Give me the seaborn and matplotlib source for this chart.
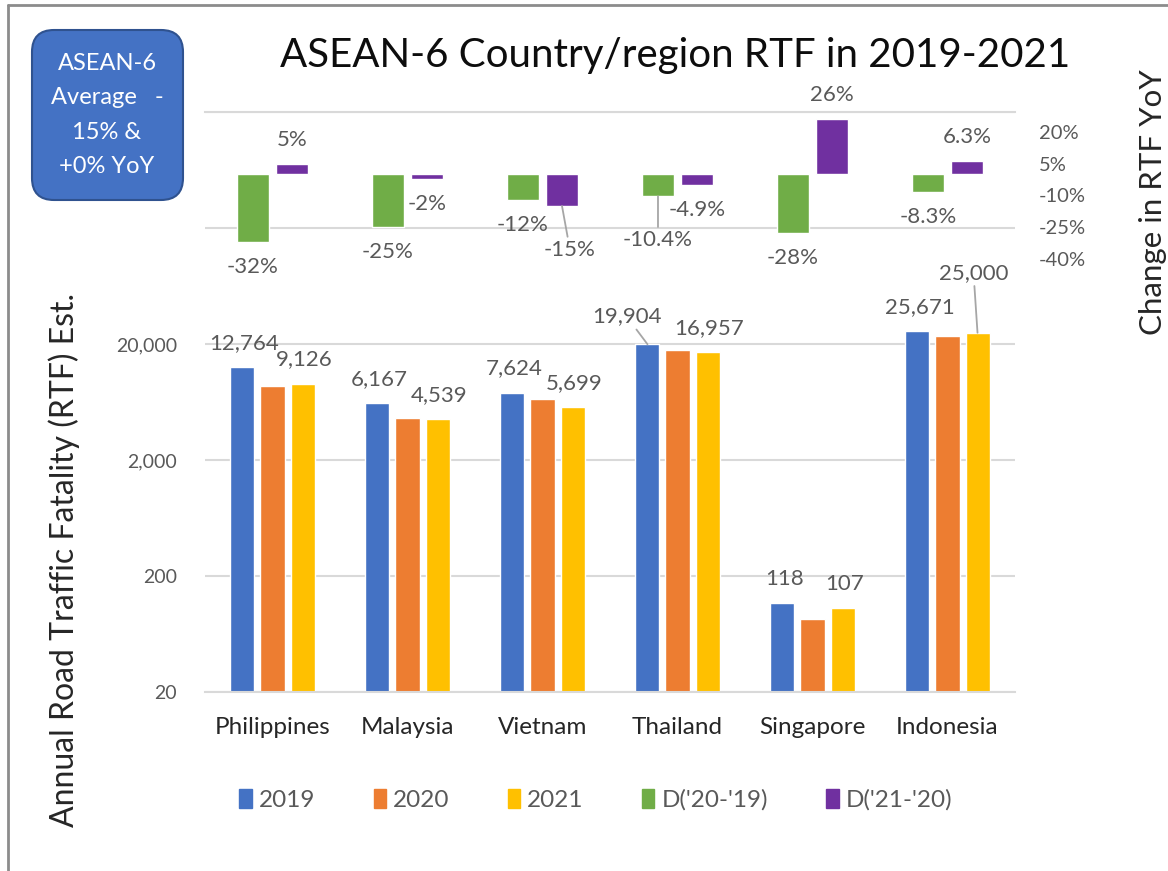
import numpy as np
import pandas as pd
import matplotlib
matplotlib.use('Agg')
import matplotlib.pyplot as plt
import seaborn as sns
from matplotlib.patches import FancyBboxPatch, Patch
from matplotlib.lines import Line2D
from matplotlib.transforms import IdentityTransform
from matplotlib.ticker import FixedLocator, FuncFormatter, NullLocator

# Data
countries = ['Philippines', 'Malaysia', 'Vietnam', 'Thailand', 'Singapore', 'Indonesia']
years = ['2019', '2020', '2021']
rtf_2019 = [12764, 6167, 7624, 19904, 118, 25671]
rtf_2020 = [8690, 4630, 6700, 17830, 85, 23530]
rtf_2021 = [9126, 4539, 5699, 16957, 107, 25000]
d_names = ["D('20-'19)", "D('21-'20)"]
d_20_19 = [-0.32, -0.25, -0.12, -0.104, -0.28, -0.083]
d_21_20 = [0.05, -0.02, -0.15, -0.049, 0.26, 0.063]
box_text = "ASEAN-6\nAverage   -\n15% &\n+0% YoY"

year_colors = ['#4472C4', '#ED7D31', '#FFC000']
d_colors = ['#70AD47', '#7030A0']

sns.set_style('white')
plt.rcParams['font.family'] = ['Lato', 'DejaVu Sans']

rtf = pd.DataFrame({'country': countries * 3,
                    'year': np.repeat(years, len(countries)),
                    'value': rtf_2019 + rtf_2020 + rtf_2021})
yoy = pd.DataFrame({'country': countries * 2,
                    'series': np.repeat(d_names, len(countries)),
                    'pct': d_20_19 + d_21_20})

W, H = 1168, 871
fig = plt.figure(figsize=(W / 100, H / 100), dpi=100)
ax = fig.add_axes([205 / W, 1 - 692 / H, 810 / W, 580 / H])
ax.set_yscale('log')

sns.barplot(data=rtf, x='country', y='value', hue='year', order=countries,
            palette=year_colors, saturation=1, width=0.667, gap=0.2, ax=ax, legend=False)
ax.set_ylim(20, 2e6)
ax.yaxis.set_major_locator(FixedLocator([20, 200, 2000, 20000, 200000, 2000000]))
ax.yaxis.set_minor_locator(NullLocator())
ax.yaxis.set_major_formatter(FuncFormatter(lambda v, _: f'{v:,.0f}' if v <= 20000 else ''))
ax.grid(axis='y', color='#D9D9D9', lw=1.5)
ax.set_axisbelow(True)
for s in ['left', 'right']:
    ax.spines[s].set_visible(False)
for s in ['top', 'bottom']:
    ax.spines[s].set_color('#D9D9D9')
    ax.spines[s].set_linewidth(1.5)
ax.tick_params(axis='y', length=0, pad=20, labelsize=14, labelcolor='#595959')
ax.tick_params(axis='x', length=0, pad=18, labelsize=17.5, labelcolor='#262626')
ax.set_xlabel('')
ax.set_ylabel('Annual Road Traffic Fatality (RTF) Est.', fontsize=23, color='#262626')
ax.yaxis.set_label_coords(-0.154, 0.228)

# secondary axis with the YoY changes
ax2 = ax.twinx()
sns.barplot(data=yoy, x='country', y='pct', hue='series', order=countries,
            palette=d_colors, saturation=1, width=0.578, gap=0.2, ax=ax2, legend=False)
ax2.set_ylim(-2.45, 0.295)
ax2.yaxis.set_major_locator(FixedLocator([-0.40, -0.25, -0.10, 0.05, 0.20]))
ax2.yaxis.set_major_formatter(FuncFormatter(lambda v, _: f'{v:.0%}'))
ax2.grid(False)
for s in ax2.spines.values():
    s.set_visible(False)
ax2.tick_params(axis='y', length=0, pad=17, labelsize=14.5, labelcolor='#595959')
ax2.set_ylabel('Change in RTF YoY', fontsize=22.5, color='#262626')
ax2.yaxis.set_label_coords(1.153, 0.845)
ax2.set_xlim(-0.5, 5.5)

lead = dict(arrowstyle='-', color='#A6A6A6', lw=1.3, shrinkA=0, shrinkB=0)
lab = dict(ha='center', va='center', fontsize=16, color='#595959', textcoords='offset pixels')

# labels on the 2019 and 2021 bars
special = {(0, 3): (-21, 28), (2, 5): (-4, 60)}
for k, vals in [(0, rtf_2019), (2, rtf_2021)]:
    for i, bar in enumerate(ax.containers[k]):
        xc = bar.get_x() + bar.get_width() / 2
        dx, dy = special.get((k, i), (2, 24))
        ax.annotate(f'{vals[i]:,}', (xc, vals[i]), xytext=(dx, dy),
                    arrowprops=lead if (k, i) in special else None, **lab)


def pct_text(v):
    p = v * 100
    return f'{p:.0f}%' if abs(p - round(p)) < 1e-6 else f'{p:.1f}%'


special2 = {(1, 2): (8, -44), (0, 3): (0, -44)}
for k, vals in enumerate([d_20_19, d_21_20]):
    for i, bar in enumerate(ax2.containers[k]):
        xc = bar.get_x() + bar.get_width() / 2
        dx, dy = special2.get((k, i), (0, 24 if vals[i] > 0 else -25))
        ax2.annotate(pct_text(vals[i]), (xc, vals[i]), xytext=(dx, dy),
                     arrowprops=lead if (k, i) in special2 else None, **lab)

fig.text(675 / W, 1 - 55 / H, 'ASEAN-6 Country/region RTF in 2019-2021',
         ha='center', va='center', fontsize=29, color='#0D0D0D')

# rounded note box
box = FancyBboxPatch((32, H - 200), 151, 170, boxstyle='round,pad=0,rounding_size=22',
                     transform=IdentityTransform(), fc='#4472C4', ec='#2F528F', lw=1.5)
fig.patches.append(box)
fig.text(107 / W, 1 - 115 / H, box_text, ha='center', va='center', fontsize=17,
         color='white', linespacing=1.78)

# chart border (top and left edges visible in the screenshot)
fig.add_artist(Line2D([8 / W, 8 / W], [0, 1 - 5 / H], transform=fig.transFigure, color='#8C8C8C', lw=2))
fig.add_artist(Line2D([8 / W, 1], [1 - 5 / H, 1 - 5 / H], transform=fig.transFigure, color='#8C8C8C', lw=2))

handles = [Patch(color=c) for c in year_colors + d_colors]
fig.legend(handles, years + d_names, loc='center', bbox_to_anchor=(596 / W, 1 - 800 / H),
           ncol=5, frameon=False, fontsize=17.5, handlelength=0.5, handleheight=0.8,
           handletextpad=0.3, columnspacing=2.4, labelcolor='#595959')

fig.savefig('out.png', dpi=100)
